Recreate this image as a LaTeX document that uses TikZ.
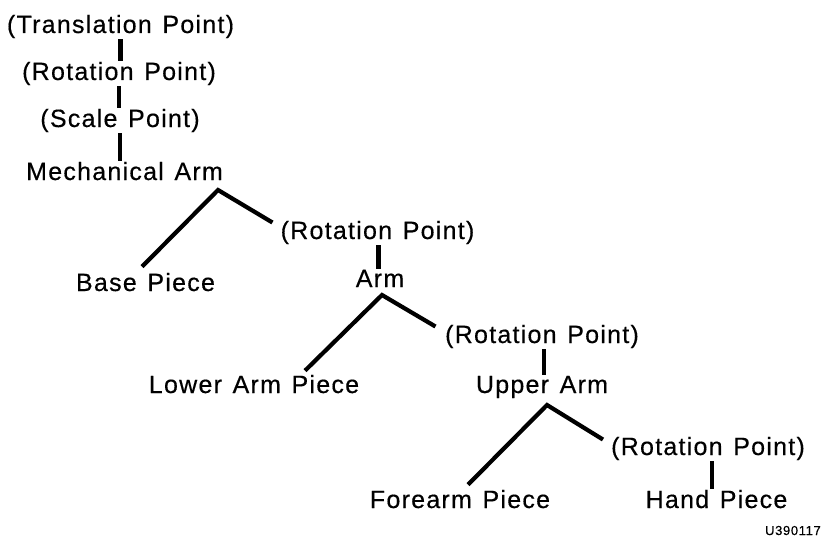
\documentclass[tikz,border=0pt]{standalone}
\usepackage{fontspec}
\setmainfont{Liberation Sans}[LetterSpace=5,FakeBold=0.4,WordSpace=1.3]
\usetikzlibrary{calc}
\begin{document}
\begin{tikzpicture}[x=1pt,y=-1pt,
  lbl/.style={font=\fontsize{25}{29}\selectfont, inner sep=1pt, anchor=base},
  conn/.style={line width=4.2pt}]
\useasboundingbox[fill=white] (0,0) rectangle (822,543);
% level 0 chain
\node[lbl] (tp)  at (120.5,33)  {(Translation Point)};
\node[lbl] (rp1) at (119,80)  {(Rotation Point)};
\node[lbl] (sp)  at (120,127) {(Scale Point)};
\node[lbl] (ma)  at (124.5,180) {Mechanical Arm};
% level 1
\node[lbl] (bp)  at (145.5,291) {Base Piece};
\node[lbl] (rp2) at (377.5,239) {(Rotation Point)};
\node[lbl] (arm) at (380,287) {Arm};
% level 2
\node[lbl] (lap) at (254,393) {Lower Arm Piece};
\node[lbl] (rp3) at (542,343) {(Rotation Point)};
\node[lbl] (ua)  at (542,393) {Upper Arm};
% level 3
\node[lbl] (fp)  at (460,508) {Forearm Piece};
\node[lbl] (rp4) at (708,455) {(Rotation Point)};
\node[lbl] (hp)  at (716.5,508) {Hand Piece};
\node[font=\fontsize{13}{15}\selectfont, inner sep=0pt, anchor=base east] (id) at (821,535) {U390117};
% vertical connectors
\draw[conn] (tp.south)  -- (tp.south  |- rp1.north);
\draw[conn] (rp1.south) -- (rp1.south |- sp.north);
\draw[conn] (sp.south)  -- (sp.south  |- ma.north);
\draw[conn] ([xshift=1pt]rp2.south) -- ([xshift=1pt]rp2.south |- arm.north);
\draw[conn] ([xshift=2pt]rp3.south) -- ([xshift=2pt]rp3.south |- ua.north);
\draw[conn] ([xshift=4pt]rp4.south) -- ([xshift=4pt]rp4.south |- hp.north);
% branches
\coordinate (j1) at (218,190);
\coordinate (j2) at (382,295);
\coordinate (j3) at (547,405);
\draw[conn] ($(bp.north)+(-3.5,-5)$) -- (j1) -- ($(rp2.west)+(-7,-10)$);
\draw[conn] ($(lap.north)+(51,-3)$) -- (j2) -- ($(rp3.west)+(-8.5,-10)$);
\draw[conn] ($(fp.north)+(8,-4)$) -- (j3) -- ($(rp4.west)+(-7,-9)$);
\end{tikzpicture}
\end{document}
